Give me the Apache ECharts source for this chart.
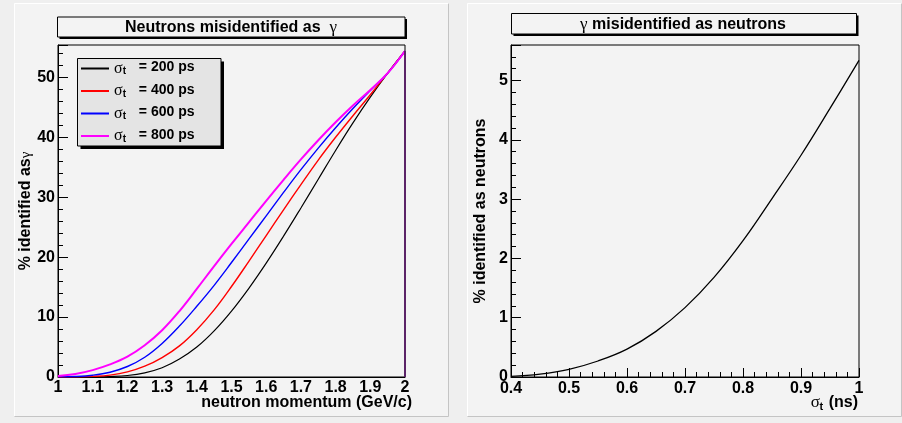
<!DOCTYPE html>
<html>
<head>
<meta charset="utf-8">
<script src="https://cdn.jsdelivr.net/npm/echarts@6/dist/echarts.min.js"></script>
<style>
  html, body { margin: 0; padding: 0; background: #efefef; }
  #chart { width: 902px; height: 423px; }
</style>
</head>
<body>
<div id="chart"></div>
<script>
// left panel: neutron momentum (GeV/c) vs % identified as gamma
const momentum = [1.00, 1.05, 1.10, 1.15, 1.20, 1.25, 1.30, 1.35, 1.40, 1.45, 1.50,
                  1.55, 1.60, 1.65, 1.70, 1.75, 1.80, 1.85, 1.90, 1.95, 2.00];
const mis200 = [0, 0, 0.02, 0.08, 0.25, 0.7, 1.55, 3.0, 5.0, 7.7, 11.0,
                14.8, 19.0, 23.5, 28.2, 33.0, 37.8, 42.4, 46.7, 50.7, 54.4];
const mis400 = [0, 0.02, 0.1, 0.32, 0.85, 1.8, 3.25, 5.2, 7.9, 11.2, 15.1,
                19.3, 23.6, 27.9, 32.1, 36.2, 40.0, 43.6, 47.1, 50.7, 54.4];
const mis600 = [0.02, 0.08, 0.3, 0.8, 1.75, 3.3, 5.6, 8.5, 11.8, 15.3, 19.1,
                23.0, 26.9, 30.8, 34.6, 38.2, 41.6, 44.8, 47.8, 50.7, 54.4];
const mis800 = [0.15, 0.5, 1.15, 2.1, 3.4, 5.3, 7.8, 11.0, 14.7, 18.5, 22.2,
                25.8, 29.4, 32.9, 36.3, 39.5, 42.5, 45.3, 47.9, 50.7, 54.4];
const sigmaNames = ['σt = 200 ps', 'σt = 400 ps', 'σt = 600 ps', 'σt = 800 ps'];

// right panel: sigma_t (ns) vs % identified as neutrons
const sigmaT = [0.40, 0.45, 0.50, 0.55, 0.60, 0.65, 0.70, 0.75, 0.80, 0.85, 0.90, 0.95, 1.00];
const gammaMis = [0.01, 0.05, 0.13, 0.27, 0.47, 0.77, 1.17, 1.68, 2.30, 3.01, 3.74, 4.53, 5.34];

const FONT = 'Liberation Sans';
const pairs = (xs, ys) => xs.map((x, i) => [x, ys[i]]);

const chart = echarts.init(document.getElementById('chart'), null, { renderer: 'canvas' });

// sigma with subscript t (legend)
const legendRich = {
  s: { fontFamily: 'Liberation Serif', fontSize: 16, fontWeight: 'normal', color: '#000', lineHeight: 16, verticalAlign: 'top' },
  t: { fontFamily: FONT, fontSize: 10, fontWeight: 'bold', color: '#000', lineHeight: 10, padding: [7, 9, 0, 0], verticalAlign: 'bottom' },
  b: { fontFamily: FONT, fontSize: 14, fontWeight: 'bold', color: '#000', lineHeight: 16, verticalAlign: 'top' }
};

function panel(x, w) {
  return [
    { type: 'rect', z: -1, shape: { x: x, y: 3, width: w, height: 413 }, style: { fill: '#f3f3f3' } },
    { type: 'polyline', z: -1, shape: { points: [[x + 0.5, 416], [x + 0.5, 3.5], [x + w, 3.5]] }, style: { stroke: '#ffffff', fill: null, lineWidth: 1 } },
    { type: 'polyline', z: -1, shape: { points: [[x + 0.5, 416.5], [x + w - 0.5, 416.5], [x + w - 0.5, 3.5]] }, style: { stroke: '#c4c4c4', fill: null, lineWidth: 1 } }
  ];
}

function box(x, y, w, h, fill, sh) {
  return [
    { type: 'rect', z: 5, shape: { x: x + sh, y: y + sh, width: w, height: h }, style: { fill: '#000' } },
    { type: 'rect', z: 5, shape: { x: x, y: y, width: w, height: h }, style: { fill: fill, stroke: '#000', lineWidth: 1 } }
  ];
}

function label(x, y, text, align, extra) {
  return {
    type: 'text', z: 6, x: x, y: y,
    style: Object.assign({
      text: text, align: align, verticalAlign: 'middle',
      fontFamily: FONT, fontSize: 16, fontWeight: 'bold', fill: '#000'
    }, extra || {})
  };
}

const titleStyle = {
  rich: { g: { fontFamily: 'Liberation Serif', fontSize: 17, fontWeight: 'normal', fill: '#000' } }
};
const serif = { fontFamily: 'Liberation Serif', fontSize: 17, fontWeight: 'normal' };

const graphic = [].concat(
  panel(14, 435),
  panel(467, 435),
  box(57.5, 17, 347.5, 20, '#f3f3f3', 2),
  box(511.5, 13.5, 345, 20.5, '#f3f3f3', 2),
  box(77.5, 58.5, 143.5, 87.5, '#e4e4e4', 3),
  [
    label(231, 27.5, 'Neutrons misidentified as  {g|γ}', 'center', titleStyle),
    label(683, 24.5, '{g|γ} misidentified as neutrons', 'center', titleStyle),
    // x-axis title of the right panel: sigma_t (ns)
    label(858, 402.5, '(ns)', 'right'),
    label(819.5, 407, 't', 'left', { fontSize: 11 }),
    label(820, 402.5, 'σ', 'right', serif)
  ]
);

const tickLabel = { fontFamily: FONT, fontSize: 16, fontWeight: 'bold', color: '#000' };
const blackLine = { lineStyle: { color: '#000', width: 1 } };
const gridBase = { show: true, borderColor: '#000', borderWidth: 1, backgroundColor: 'transparent', outerBoundsMode: 'none', containLabel: false };

const option = {
  animation: false,
  backgroundColor: '#efefef',
  graphic: graphic,
  grid: [
    Object.assign({ left: 58, top: 45, width: 347, height: 332 }, gridBase),
    Object.assign({ left: 511, top: 45, width: 348, height: 332 }, gridBase)
  ],
  legend: {
    data: sigmaNames,
    orient: 'vertical',
    left: 80,
    top: 59.5,
    z: 7,
    padding: 0,
    itemWidth: 28,
    itemHeight: 12,
    itemGap: 5.5,
    itemStyle: { opacity: 0 },
    formatter: name => '{s|σ}{t|t}{b|' + name.slice(2) + '}',
    textStyle: { fontFamily: FONT, fontSize: 14, fontWeight: 'bold', color: '#000', rich: legendRich }
  },
  xAxis: [
    {
      type: 'value', gridIndex: 0, min: 1, max: 2, interval: 0.1,
      axisLine: Object.assign({ onZero: false }, blackLine),
      axisTick: { show: false },
      splitLine: { show: false },
      axisLabel: Object.assign({ margin: 3 }, tickLabel),
      name: 'neutron momentum (GeV/c)',
      nameLocation: 'end',
      nameGap: 7,
      nameMoveOverlap: false,
      nameTextStyle: Object.assign({ align: 'right', verticalAlign: 'top', padding: [18, 0, 0, 0] }, tickLabel)
    },
    {
      type: 'value', gridIndex: 1, min: 0.4, max: 1, interval: 0.1,
      axisLine: Object.assign({ onZero: false }, blackLine),
      axisTick: { inside: true, length: 9, lineStyle: { color: '#000' } },
      minorTick: { show: true, splitNumber: 5, length: 5, lineStyle: { color: '#000' } },
      splitLine: { show: false },
      axisLabel: Object.assign({ margin: 4 }, tickLabel)
    }
  ],
  yAxis: [
    {
      type: 'value', gridIndex: 0, min: 0, max: 55.4, interval: 10,
      axisLine: Object.assign({ onZero: false }, blackLine),
      axisTick: { inside: true, length: 10, lineStyle: { color: '#000' } },
      minorTick: { show: true, splitNumber: 5, length: 5, lineStyle: { color: '#000' } },
      splitLine: { show: false },
      axisLabel: Object.assign({ margin: 3, formatter: v => (Math.abs(v % 10) < 1e-6 ? String(v) : '') }, tickLabel),
      name: '% identified as{g|γ}',
      nameLocation: 'middle',
      nameGap: 24,
      nameMoveOverlap: false,
      nameTextStyle: Object.assign({ rich: { g: { fontFamily: 'Liberation Serif', fontSize: 15, fontWeight: 'normal', color: '#000' } } }, tickLabel)
    },
    {
      type: 'value', gridIndex: 1, min: 0, max: 5.6, interval: 1,
      axisLine: Object.assign({ onZero: false }, blackLine),
      axisTick: { inside: true, length: 10, lineStyle: { color: '#000' } },
      minorTick: { show: true, splitNumber: 5, length: 5, lineStyle: { color: '#000' } },
      splitLine: { show: false },
      axisLabel: Object.assign({ margin: 3, formatter: v => (Number.isInteger(v) ? String(v) : '') }, tickLabel),
      name: '% identified as neutrons',
      nameLocation: 'middle',
      nameGap: 22,
      nameMoveOverlap: false,
      nameTextStyle: tickLabel
    }
  ],
  series: [
    {
      name: sigmaNames[0], type: 'line', xAxisIndex: 0, yAxisIndex: 0,
      data: pairs(momentum, mis200), symbol: 'none', smooth: 0.4, z: 3,
      lineStyle: { color: '#000000', width: 1.2 }, itemStyle: { color: '#000000' },
      markLine: {
        silent: true, symbol: ['none', 'none'], label: { show: false },
        lineStyle: { color: '#5b2468', width: 2, type: 'solid' },
        data: [[{ coord: [momentum[momentum.length - 1], 0] },
                { coord: [momentum[momentum.length - 1], mis200[mis200.length - 1]] }]]
      }
    },
    {
      name: sigmaNames[1], type: 'line', xAxisIndex: 0, yAxisIndex: 0,
      data: pairs(momentum, mis400), symbol: 'none', smooth: 0.4, z: 3,
      lineStyle: { color: '#ff0000', width: 1.4 }, itemStyle: { color: '#ff0000' }
    },
    {
      name: sigmaNames[2], type: 'line', xAxisIndex: 0, yAxisIndex: 0,
      data: pairs(momentum, mis600), symbol: 'none', smooth: 0.4, z: 3,
      lineStyle: { color: '#0000ff', width: 1.4 }, itemStyle: { color: '#0000ff' }
    },
    {
      name: sigmaNames[3], type: 'line', xAxisIndex: 0, yAxisIndex: 0,
      data: pairs(momentum, mis800), symbol: 'none', smooth: 0.4, z: 3,
      lineStyle: { color: '#ff00ff', width: 2 }, itemStyle: { color: '#ff00ff' }
    },
    {
      name: 'gamma', type: 'line', xAxisIndex: 1, yAxisIndex: 1,
      data: pairs(sigmaT, gammaMis), symbol: 'none', smooth: 0.4, z: 3,
      lineStyle: { color: '#000000', width: 1.3 }, itemStyle: { color: '#000000' }
    }
  ]
};

chart.setOption(option);
</script>
</body>
</html>
